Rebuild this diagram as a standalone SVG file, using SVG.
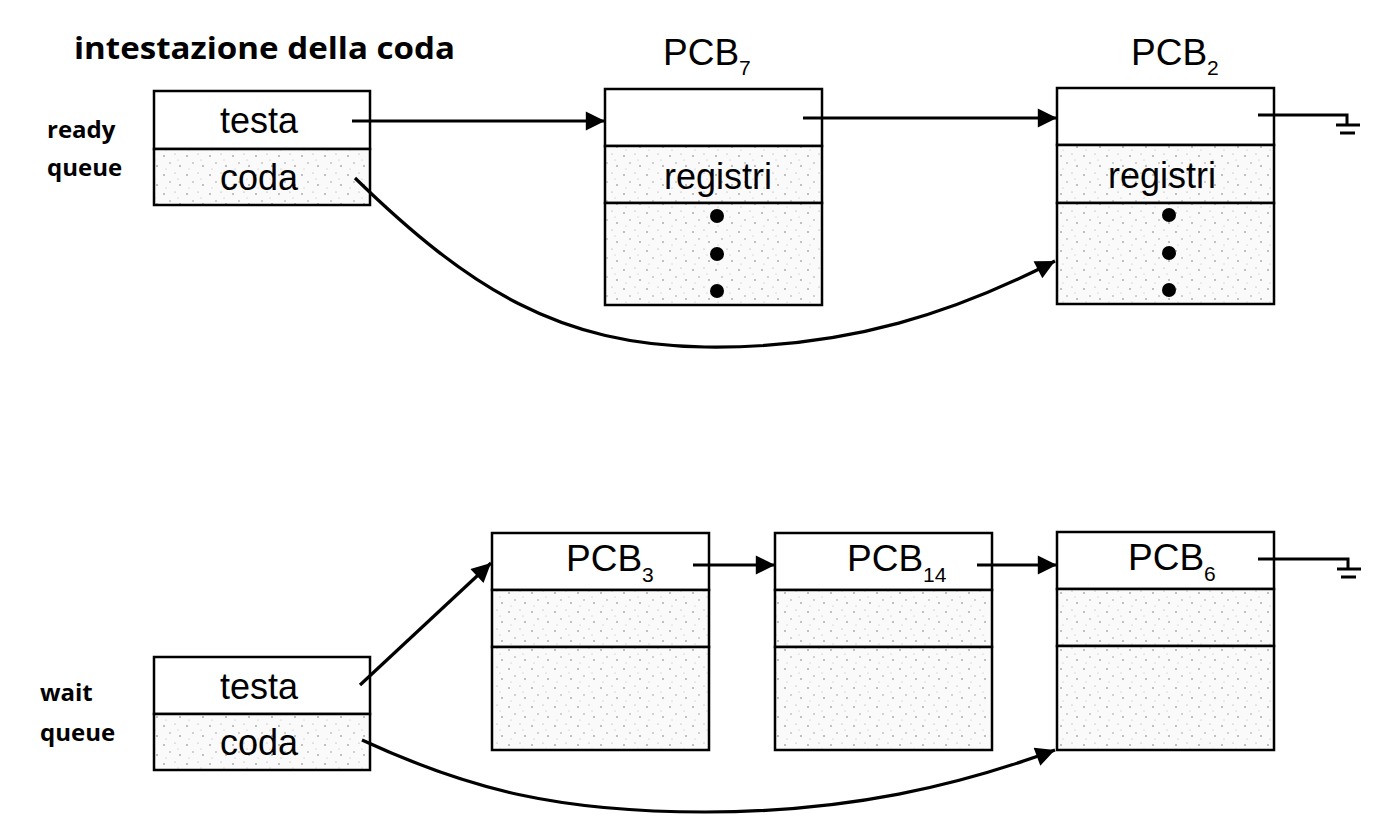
<svg xmlns="http://www.w3.org/2000/svg" width="1391" height="823" viewBox="0 0 1391 823">
<defs>
<pattern id="stip" width="23" height="19" patternUnits="userSpaceOnUse">
<rect width="23" height="19" fill="#fafafa"/>
<circle cx="3" cy="4" r="0.8" fill="#777"/>
<circle cx="14" cy="2" r="0.6" fill="#999"/>
<circle cx="9" cy="11" r="0.7" fill="#888"/>
<circle cx="19" cy="14" r="0.8" fill="#777"/>
<circle cx="5" cy="17" r="0.5" fill="#aaa"/>
<circle cx="17" cy="8" r="0.5" fill="#aaa"/>
</pattern>
<marker id="ah" viewBox="0 0 10 10" refX="10" refY="5" markerWidth="8" markerHeight="6" markerUnits="strokeWidth" orient="auto">
<path d="M0,0 L10,5 L0,10 z" fill="#000"/>
</marker>
<marker id="ahc" viewBox="0 0 10 10" refX="10" refY="5" markerWidth="7" markerHeight="6" markerUnits="strokeWidth" orient="auto">
<path d="M0,0 L10,5 L0,10 z" fill="#000"/>
</marker>
</defs>
<style>
.box{fill:#fff;stroke:#000;stroke-width:2.5}
.sb{fill:url(#stip);stroke:#000;stroke-width:2.5}
.t{font-family:"Liberation Sans",Arial,sans-serif;font-size:36px;fill:#000;text-anchor:middle}
.p{font-family:"Liberation Sans",Arial,sans-serif;font-size:37px;fill:#000}
.h{font-family:"Open Sans","DejaVu Sans",sans-serif;font-weight:bold;fill:#000}
.c{fill:none;stroke:#000;stroke-width:3.2}
.g{fill:none;stroke:#000;stroke-width:3}
.sub{font-size:21px}
</style>
<rect width="1391" height="823" fill="#fff"/>

<g id="titles">
<text class="h" x="74" y="59" font-size="31" textLength="381" lengthAdjust="spacingAndGlyphs">intestazione della coda</text>
<text class="h" x="47" y="138" font-size="24">ready</text>
<text class="h" x="47" y="176" font-size="24">queue</text>
<text class="h" x="40" y="701" font-size="24">wait</text>
<text class="h" x="40" y="741" font-size="24">queue</text>
</g>

<g id="ready-header">
<rect class="box" x="154" y="91" width="216" height="58"/>
<rect class="sb" x="154" y="149" width="216" height="56"/>
<text class="t" x="259" y="133">testa</text>
<text class="t" x="259" y="190">coda</text>
</g>

<g id="pcb7">
<text class="p" x="663" y="65">PCB<tspan class="sub" dy="10">7</tspan></text>
<rect class="box" x="605" y="89" width="217" height="57"/>
<rect class="sb" x="605" y="146" width="217" height="57"/>
<rect class="sb" x="605" y="203" width="217" height="102"/>
<text class="t" x="718" y="189">registri</text>
<circle cx="717" cy="216" r="7"/>
<circle cx="717" cy="254" r="7"/>
<circle cx="717" cy="291" r="7"/>
</g>

<g id="pcb2">
<text class="p" x="1131" y="65">PCB<tspan class="sub" dy="10">2</tspan></text>
<rect class="box" x="1057" y="88" width="217" height="57"/>
<rect class="sb" x="1057" y="145" width="217" height="58"/>
<rect class="sb" x="1057" y="203" width="217" height="101"/>
<text class="t" x="1162" y="188">registri</text>
<circle cx="1169" cy="215" r="7"/>
<circle cx="1169" cy="253" r="7"/>
<circle cx="1169" cy="290" r="7"/>
</g>

<g id="wait-header">
<rect class="box" x="154" y="657" width="216" height="57"/>
<rect class="sb" x="154" y="714" width="216" height="56"/>
<text class="t" x="259" y="699">testa</text>
<text class="t" x="259" y="755">coda</text>
</g>

<g id="pcb3">
<rect class="box" x="492" y="533" width="217" height="57"/>
<rect class="sb" x="492" y="590" width="217" height="57"/>
<rect class="sb" x="492" y="647" width="217" height="103"/>
<text class="p" x="566" y="571">PCB<tspan class="sub" dy="11">3</tspan></text>
</g>

<g id="pcb14">
<rect class="box" x="775" y="533" width="217" height="57"/>
<rect class="sb" x="775" y="590" width="217" height="57"/>
<rect class="sb" x="775" y="647" width="217" height="103"/>
<text class="p" x="847" y="571">PCB<tspan class="sub" dy="11">14</tspan></text>
</g>

<g id="pcb6">
<rect class="box" x="1057" y="532" width="217" height="57"/>
<rect class="sb" x="1057" y="589" width="217" height="57"/>
<rect class="sb" x="1057" y="646" width="217" height="104"/>
<text class="p" x="1128" y="570">PCB<tspan class="sub" dy="11">6</tspan></text>
</g>

<g id="connectors">
<line class="c" x1="352" y1="121" x2="605" y2="121" marker-end="url(#ah)"/>
<line class="c" x1="803" y1="118" x2="1057" y2="118" marker-end="url(#ah)"/>
<path class="c" d="M355,178 C470,290 560,345 705,347 C850,349 960,310 1055,261" marker-end="url(#ahc)"/>
<line class="c" x1="360" y1="685" x2="491" y2="563" marker-end="url(#ahc)"/>
<line class="c" x1="693" y1="565" x2="775" y2="565" marker-end="url(#ah)"/>
<line class="c" x1="977" y1="565" x2="1057" y2="565" marker-end="url(#ah)"/>
<path class="c" d="M362,740 C470,790 560,812 705,812 C850,812 960,785 1055,750" marker-end="url(#ahc)"/>
<path class="g" d="M1258,115 L1347,115 L1347,124"/>
<line x1="1336" y1="125" x2="1360" y2="125" stroke="#000" stroke-width="3"/>
<line x1="1340" y1="133" x2="1355" y2="133" stroke="#000" stroke-width="3"/>
<path class="g" d="M1258,559 L1348,559 L1348,568"/>
<line x1="1337" y1="569" x2="1361" y2="569" stroke="#000" stroke-width="3"/>
<line x1="1341" y1="577" x2="1356" y2="577" stroke="#000" stroke-width="3"/>
</g>
</svg>
